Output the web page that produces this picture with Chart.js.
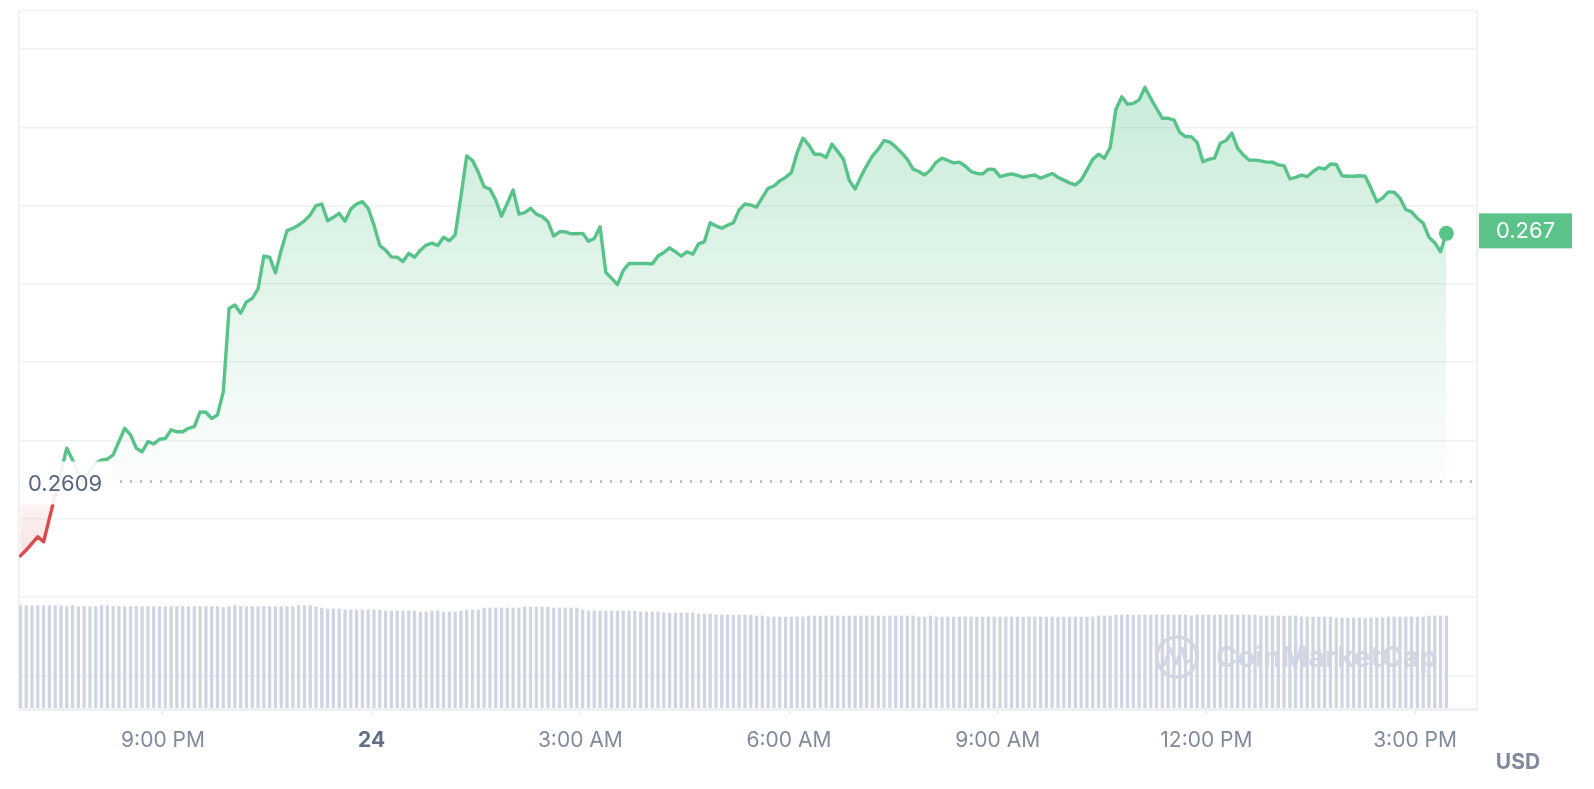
<!DOCTYPE html>
<html>
<head>
<meta charset="utf-8">
<script src="https://cdn.jsdelivr.net/npm/chart.js@4/dist/chart.umd.min.js"></script>
<style>
html,body{margin:0;padding:0;background:#ffffff;}
#wrap{width:1594px;height:789px;position:relative;}
</style>
</head>
<body>
<div id="wrap"><canvas id="c" width="1594" height="789"></canvas></div>
<script>
// ---------- data ----------
const startMinute = -303;      // first sample, minutes relative to midnight (≈18:57)
const stepMinutes = 5;
const baselinePrice = 0.2609;
const currencyLabel = 'USD';
const watermarkText = 'CoinMarketCap';

// price per 5-minute slot (null = point lies on a straight segment, not readable)
const prices = [
  0.25900, 0.25915, null, 0.25949, 0.25936, null, null, null, 0.26175, null,
  null, 0.26084, 0.26119, 0.26137, 0.26145, 0.26147, 0.26158, null, 0.26226, 0.26209,
  0.26175, 0.26166, 0.26192, 0.26186, 0.26198, 0.26200, 0.26222, 0.26217, 0.26217, 0.26226,
  0.26230, 0.26268, 0.26267, 0.26251, 0.26260, 0.26319, 0.26532, 0.26541, 0.26520, 0.26549,
  0.26558, 0.26582, 0.26666, 0.26663, 0.26623, 0.26681, 0.26731, 0.26737, 0.26745, 0.26756,
  0.26771, 0.26795, 0.26799, 0.26756, 0.26765, 0.26775, 0.26755, 0.26786, 0.26799, 0.26805,
  0.26788, 0.26745, 0.26693, 0.26681, 0.26664, 0.26663, 0.26652, 0.26673, 0.26663, 0.26681,
  0.26694, 0.26699, 0.26693, 0.26714, 0.26705, 0.26720, 0.26818, 0.26922, 0.26910, 0.26880,
  0.26843, 0.26837, 0.26809, 0.26768, 0.26801, 0.26835, 0.26773, 0.26777, 0.26788, 0.26773,
  0.26767, 0.26754, 0.26717, 0.26728, 0.26728, 0.26723, 0.26723, 0.26724, 0.26704, 0.26711,
  0.26741, 0.26624, 0.26609, 0.26593, 0.26629, 0.26647, 0.26647, 0.26647, 0.26647, 0.26646,
  0.26666, 0.26675, 0.26687, 0.26677, 0.26666, 0.26677, 0.26671, 0.26697, 0.26703, 0.26751,
  0.26743, 0.26737, 0.26745, 0.26751, 0.26784, 0.26799, 0.26796, 0.26791, 0.26816, 0.26839,
  0.26845, 0.26858, 0.26867, 0.26879, 0.26930, 0.26967, 0.26950, 0.26926, 0.26926, 0.26918,
  0.26952, 0.26933, 0.26913, 0.26859, 0.26837, 0.26869, 0.26897, 0.26922, 0.26939, 0.26961,
  0.26957, 0.26945, 0.26930, 0.26913, 0.26888, 0.26882, 0.26873, 0.26886, 0.26906, 0.26916,
  0.26910, 0.26904, 0.26906, 0.26896, 0.26882, 0.26877, 0.26876, 0.26888, 0.26887, 0.26869,
  0.26873, 0.26876, 0.26872, 0.26867, 0.26871, 0.26873, 0.26865, 0.26871, 0.26877, 0.26867,
  0.26860, 0.26853, 0.26848, 0.26860, 0.26886, 0.26913, 0.26926, 0.26916, 0.26943, 0.27041,
  0.27073, 0.27054, 0.27056, 0.27065, 0.27097, 0.27069, 0.27043, 0.27018, 0.27018, 0.27014,
  0.26982, 0.26971, 0.26971, 0.26956, 0.26907, 0.26913, 0.26916, 0.26954, 0.26961, 0.26980,
  0.26941, 0.26924, 0.26911, 0.26911, 0.26909, 0.26906, 0.26906, 0.26899, 0.26897, 0.26863,
  0.26867, 0.26873, 0.26869, 0.26882, 0.26892, 0.26888, 0.26901, 0.26900, 0.26871, 0.26870,
  0.26870, 0.26871, 0.26870, 0.26839, 0.26805, 0.26814, 0.26830, 0.26829, 0.26814, 0.26785,
  0.26779, 0.26762, 0.26750, 0.26714, 0.26700, 0.26677, 0.26724
];

// volume per slot (millions USD, relative)
const volumes = [
  512, 512, 512, 512, 512, 512, 512, 512, 507, 512,
  507, 507, 507, 507, 512, 512, 507, 507, 507, 507,
  507, 507, 507, 507, 507, 507, 507, 507, 507, 507,
  507, 507, 507, 507, 507, 502, 507, 512, 507, 507,
  507, 507, 507, 507, 507, 507, 507, 507, 512, 512,
  512, 505, 500, 495, 495, 495, 490, 490, 490, 490,
  490, 490, 490, 485, 485, 485, 485, 485, 485, 480,
  480, 485, 485, 480, 480, 480, 485, 490, 490, 490,
  500, 500, 500, 500, 500, 500, 500, 505, 505, 505,
  505, 505, 500, 500, 500, 500, 500, 490, 485, 485,
  485, 485, 485, 485, 485, 485, 485, 480, 480, 480,
  480, 475, 475, 475, 475, 475, 475, 470, 470, 470,
  465, 465, 465, 465, 465, 465, 465, 460, 460, 455,
  455, 455, 455, 455, 455, 455, 460, 460, 460, 460,
  460, 460, 460, 460, 460, 460, 460, 460, 460, 460,
  460, 460, 460, 460, 460, 455, 455, 460, 455, 455,
  455, 455, 455, 455, 455, 455, 455, 455, 455, 455,
  455, 455, 455, 455, 455, 455, 455, 455, 455, 455,
  455, 455, 455, 455, 455, 455, 460, 460, 460, 465,
  465, 465, 465, 465, 465, 465, 465, 465, 465, 465,
  465, 465, 460, 465, 465, 465, 465, 465, 465, 465,
  465, 465, 465, 465, 460, 460, 460, 460, 460, 460,
  460, 455, 455, 455, 455, 455, 455, 450, 450, 450,
  450, 450, 450, 450, 450, 450, 455, 455, 455, 455,
  455, 455, 455, 460, 460, 460, 460
];

const tickMinutes = [-180, 0, 180, 360, 540, 720, 900];
const tickLabels  = ['9:00 PM', '24', '3:00 AM', '6:00 AM', '9:00 AM', '12:00 PM', '3:00 PM'];
const priceGrid = [0.25595, 0.25795, 0.25995, 0.26195, 0.26395, 0.26595, 0.26795, 0.26995, 0.27195];

// ---------- styling ----------
const GREEN = '#58c389';
const RED = '#dc4a4b';
const FONT = 'Inter, "Noto Sans", Roboto, sans-serif';

const pricePoints = prices.map((p, i) => ({x: startMinute + i * stepMinutes, y: p}));
const volumePoints = volumes.map((v, i) => ({x: startMinute + i * stepMinutes, y: v}));
const lastIdx = prices.length - 1;
const known = prices.filter(v => v !== null);
const maxPrice = Math.max(...known);
const minPrice = Math.min(...known);

const gradientPlugin = {
  id: 'gradients',
  afterLayout(chart) {
    const {ctx, chartArea, scales} = chart;
    if (!chartArea) return;
    const yb = scales.y.getPixelForValue(baselinePrice);
    const top = chartArea.top, bottom = chartArea.bottom;
    const stop = Math.min(1, Math.max(0, (yb - top) / (bottom - top)));
    const line = ctx.createLinearGradient(0, top, 0, bottom);
    line.addColorStop(0, GREEN);
    line.addColorStop(stop, GREEN);
    line.addColorStop(stop, RED);
    line.addColorStop(1, RED);
    const hi = scales.y.getPixelForValue(maxPrice);
    const lo = scales.y.getPixelForValue(minPrice);
    const above = ctx.createLinearGradient(0, hi, 0, yb);
    above.addColorStop(0, 'rgba(88,195,137,0.32)');
    above.addColorStop(1, 'rgba(88,195,137,0.02)');
    const below = ctx.createLinearGradient(0, yb, 0, lo);
    below.addColorStop(0, 'rgba(220,74,75,0.02)');
    below.addColorStop(1, 'rgba(220,74,75,0.16)');
    const ds = chart.data.datasets[0];
    ds.borderColor = line;
    ds.fill = {target: {value: baselinePrice}, above: above, below: below};
  }
};

const decorPlugin = {
  id: 'decor',
  beforeDatasetsDraw(chart) {
    const {ctx, chartArea} = chart;
    ctx.save();
    // frame
    ctx.strokeStyle = '#eef0f4';
    ctx.lineWidth = 1;
    ctx.beginPath(); ctx.moveTo(chartArea.left, chartArea.top + 0.5); ctx.lineTo(chartArea.right, chartArea.top + 0.5); ctx.stroke();
    ctx.lineWidth = 2;
    ctx.beginPath(); ctx.moveTo(chartArea.left, chartArea.top); ctx.lineTo(chartArea.left, chartArea.bottom + 2); ctx.stroke();
    ctx.beginPath(); ctx.moveTo(chartArea.right - 1, chartArea.top); ctx.lineTo(chartArea.right - 1, chartArea.bottom + 2); ctx.stroke();
    // watermark
    const cx = chartArea.right - 301, cy = chartArea.bottom - 51;
    ctx.strokeStyle = '#d3d8e2';
    ctx.fillStyle = '#d3d8e2';
    ctx.lineWidth = 3.5;
    ctx.beginPath(); ctx.arc(cx, cy, 20, 0, Math.PI * 2); ctx.stroke();
    ctx.lineWidth = 3;
    ctx.lineJoin = 'round';
    ctx.beginPath();
    ctx.moveTo(cx - 13, cy + 9);
    ctx.lineTo(cx - 7, cy - 9);
    ctx.lineTo(cx - 1, cy + 7);
    ctx.lineTo(cx + 5, cy - 9);
    ctx.lineTo(cx + 9, cy + 6);
    ctx.lineTo(cx + 14, cy + 3);
    ctx.stroke();
    ctx.font = 'bold 29px ' + FONT;
    ctx.textBaseline = 'middle';
    ctx.textAlign = 'left';
    ctx.fillText(watermarkText, cx + 39, cy + 1);
    ctx.restore();
  },
  afterDatasetsDraw(chart) {
    const {ctx, chartArea, scales} = chart;
    const yb = scales.y.getPixelForValue(baselinePrice);
    ctx.save();
    // bottom axis line
    ctx.strokeStyle = '#eef0f4';
    ctx.lineWidth = 3;
    ctx.beginPath(); ctx.moveTo(chartArea.left - 1, chartArea.bottom + 1.5); ctx.lineTo(chartArea.right, chartArea.bottom + 1.5); ctx.stroke();
    // dotted baseline
    ctx.strokeStyle = '#9ea5b3';
    ctx.lineWidth = 2;
    ctx.setLineDash([2, 8]);
    ctx.beginPath(); ctx.moveTo(chartArea.left + 101, yb); ctx.lineTo(chartArea.right - 4, yb); ctx.stroke();
    ctx.setLineDash([]);
    // baseline label
    ctx.fillStyle = 'rgba(255,255,255,0.9)';
    ctx.beginPath();
    if (ctx.roundRect) ctx.roundRect(chartArea.left + 1, yb - 20, 92, 43, 4); else ctx.rect(chartArea.left + 1, yb - 20, 92, 43);
    ctx.fill();
    ctx.fillStyle = '#58667e';
    ctx.font = '22px ' + FONT;
    ctx.textBaseline = 'middle';
    ctx.textAlign = 'left';
    ctx.fillText(baselinePrice.toFixed(4), chartArea.left + 9, yb + 3);
    // last price tag
    const lastY = scales.y.getPixelForValue(prices[lastIdx]);
    const bx = chartArea.right + 1, bw = 93, bh = 35;
    ctx.fillStyle = '#5bc389';
    ctx.fillRect(bx, lastY - 20, bw, bh);
    ctx.fillStyle = '#ffffff';
    ctx.textAlign = 'center';
    ctx.fillText(prices[lastIdx].toFixed(3), bx + bw / 2, lastY - 2);
    // currency
    ctx.fillStyle = '#808a9d';
    ctx.font = 'bold 21px ' + FONT;
    ctx.fillText(currencyLabel, chart.width - 76, chart.height - 26);
    ctx.restore();
  }
};

Chart.defaults.font.family = FONT;

new Chart(document.getElementById('c'), {
  type: 'line',
  data: {
    datasets: [
      {
        type: 'line',
        data: pricePoints,
        xAxisID: 'x',
        yAxisID: 'y',
        borderColor: GREEN,
        borderWidth: 3.4,
        borderJoinStyle: 'round',
        borderCapStyle: 'round',
        tension: 0,
        spanGaps: true,
        fill: {target: {value: baselinePrice}},
        pointRadius: (c) => c.dataIndex === lastIdx ? 7.5 : 0,
        pointBackgroundColor: GREEN,
        pointBorderWidth: 0,
        order: 1
      },
      {
        type: 'bar',
        data: volumePoints,
        xAxisID: 'x',
        yAxisID: 'yv',
        backgroundColor: '#cfd5e2',
        barThickness: 2.6,
        order: 2
      }
    ]
  },
  options: {
    responsive: false,
    devicePixelRatio: 1,
    animation: false,
    events: [],
    layout: {padding: {left: 19, right: 116, top: 10, bottom: 0}},
    plugins: {legend: {display: false}, tooltip: {enabled: false}},
    scales: {
      x: {
        type: 'linear',
        min: -304.2,
        max: 954.3,
        offset: false,
        afterBuildTicks: (s) => { s.ticks = tickMinutes.map(v => ({value: v})); },
        afterFit: (s) => { s.height = 81; },
        grid: {offset: false, drawOnChartArea: false, drawTicks: true, tickLength: 6, tickColor: '#e2e5eb', tickWidth: 1.5},
        border: {display: false},
        ticks: {
          autoSkip: false,
          maxRotation: 0,
          padding: 14,
          callback: (v) => { const i = tickMinutes.indexOf(v); return i >= 0 ? tickLabels[i] : ''; },
          color: (c) => c.tick && c.tick.value === 0 ? '#616e85' : '#808a9d',
          font: (c) => ({family: FONT, size: 21, weight: c.tick && c.tick.value === 0 ? 'bold' : 'normal'})
        }
      },
      y: {
        type: 'linear',
        position: 'left',
        min: 0.255114,
        max: 0.272946,
        afterBuildTicks: (s) => { s.ticks = priceGrid.map(v => ({value: v})); },
        afterFit: (s) => { s.width = 0; },
        grid: {color: '#eff1f4', lineWidth: 1.5, drawTicks: false},
        border: {display: false},
        ticks: {display: false}
      },
      yv: {
        type: 'linear',
        display: false,
        min: 0,
        max: 3490
      }
    }
  },
  plugins: [gradientPlugin, decorPlugin]
});
</script>
</body>
</html>
